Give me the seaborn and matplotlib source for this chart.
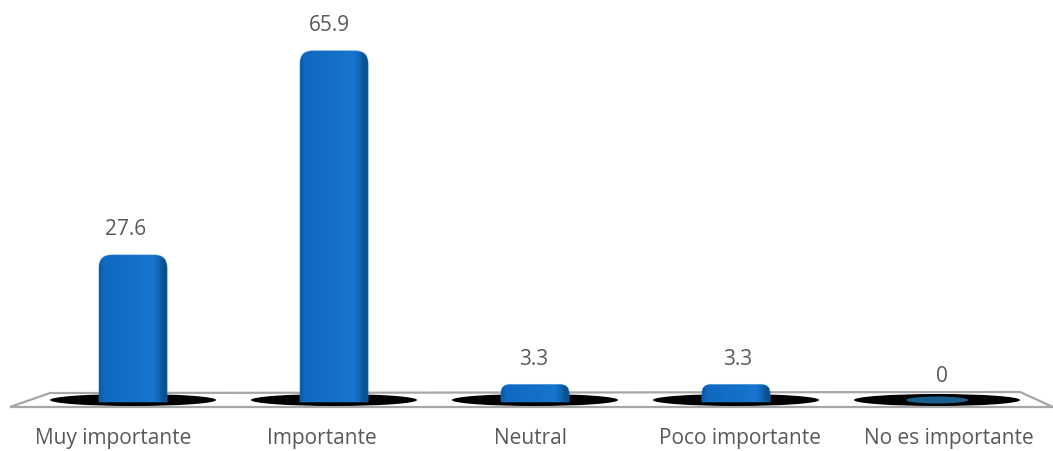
import numpy as np
import matplotlib
matplotlib.use("Agg")
import matplotlib.pyplot as plt
import seaborn as sns
from matplotlib.path import Path
from matplotlib.patches import PathPatch, Ellipse, Polygon
from matplotlib.colors import to_rgb

categories = ["Muy importante", "Importante", "Neutral", "Poco importante", "No es importante"]
values = [27.6, 65.9, 3.3, 3.3, 0]
value_labels = ["27.6", "65.9", "3.3", "3.3", "0"]

sns.set_theme(style="white")
plt.rcParams["font.family"] = ["Open Sans", "DejaVu Sans"]

fig = plt.figure(figsize=(10.53, 4.52), dpi=100)
ax = fig.add_axes([0, 0, 1, 1])

sns.barplot(x=categories, y=values, color="#0f6cc4", width=0.34, ax=ax)

PXX = 201.0   # pixels per x unit
PXY = 5.33    # pixels per y unit
PT = 72 / 100  # points per pixel
ax.set_xlim(-133 / PXX, (1053 - 133) / PXX)
ax.set_ylim((403 - 452) / PXY, 403 / PXY)
ax.axis("off")

def px2x(px):
    return (px - 133) / PXX

def py2y(py):
    return (403 - py) / PXY

# floor outline
floor = Polygon([(px2x(10), py2y(408)), (px2x(50), py2y(394)),
                 (px2x(1020), py2y(393)), (px2x(1053), py2y(408))],
                closed=True, facecolor="white", edgecolor="#a6a6a6", lw=1.6, zorder=1)
ax.add_patch(floor)

stops = [0.0, 0.07, 0.5, 0.78, 0.86, 0.92, 1.0]
cols = ["#0a58a2", "#1068c0", "#1370c8", "#1776cf", "#1168b8", "#0b5597", "#0a4a82"]
cols_rgb = np.array([to_rgb(c) for c in cols])
xs = np.linspace(0, 1, 200)
grad = np.stack([np.interp(xs, stops, cols_rgb[:, k]) for k in range(3)], axis=-1)
grad_img = np.repeat(grad[None, :, :], 50, axis=0)

bars = list(ax.patches)
n = len(bars)
mid = (n - 1) / 2
for i, (bar, lab) in enumerate(zip(bars, value_labels)):
    x0 = bar.get_x()
    w = bar.get_width()
    h = bar.get_height()
    cx = x0 + w / 2
    bar.remove()
    # shadow
    ax.add_patch(Ellipse((cx, py2y(401)), 166 / PXX, 12 / PXY,
                         facecolor="black", edgecolor="none", zorder=2))
    if h > 0:
        r_px = min(13.0, h * PXY / 2)
        rx = r_px / PXX
        ry = r_px / PXY
        x1 = x0 + w
        verts = [(x0, 0), (x0, h - ry), (x0, h), (x0 + rx, h),
                 (x1 - rx, h), (x1, h), (x1, h - ry), (x1, 0), (x0, 0)]
        codes = [Path.MOVETO, Path.LINETO, Path.CURVE3, Path.CURVE3,
                 Path.LINETO, Path.CURVE3, Path.CURVE3, Path.LINETO, Path.CLOSEPOLY]
        pp = PathPatch(Path(verts, codes), facecolor="none", edgecolor="none", zorder=3)
        ax.add_patch(pp)
        im = ax.imshow(grad_img, extent=(x0, x1, 0, h), aspect="auto",
                       zorder=3, interpolation="bilinear")
        im.set_clip_path(pp)
        ax.add_patch(PathPatch(Path(verts, codes), facecolor="none",
                               edgecolor="#2b86d8", lw=0.6, zorder=4, alpha=0.5))
    else:
        ax.add_patch(Ellipse((cx, py2y(401)), 62 / PXX, 7 / PXY,
                             facecolor="#1b5e8c", edgecolor="none", zorder=3))
    ax.annotate(lab, (cx, h), xytext=((i - mid) * 3 * PT, 26 * PT),
                textcoords="offset points",
                ha="center", va="center", fontsize=15, color="#595959")
    ax.annotate(categories[i], (cx, py2y(439)), xytext=((i - mid) * 8 * PT, 0),
                textcoords="offset points",
                ha="center", va="center", fontsize=15, color="#595959")

fig.savefig("out.png", dpi=100)
